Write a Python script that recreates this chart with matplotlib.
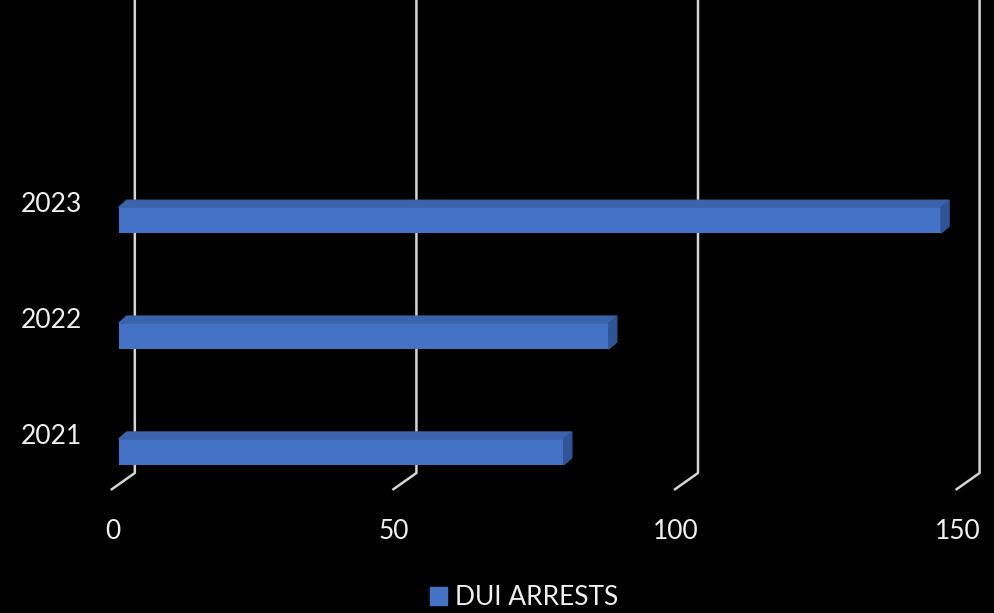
import matplotlib
matplotlib.use("Agg")
import matplotlib.pyplot as plt
from matplotlib.patches import Polygon, Rectangle

# data
years = ['2021', '2022', '2023']
arrests = [79, 87, 146]
x_ticks = [0, 50, 100, 150]
series_name = 'DUI ARRESTS'

# colours
front_col = '#4472C4'
top_col = '#3B64AD'
side_col = '#2F5597'
grid_col = '#d4d4d4'
text_col = '#f0f0f0'

plt.rcParams['font.family'] = ['Lato', 'DejaVu Sans']

fig = plt.figure(figsize=(9.94, 6.13), dpi=100, facecolor='black')
ax = fig.add_axes([0, 0, 1, 1])
ax.set_facecolor('black')
ax.set_xlim(-21.1, 155.4)
ax.set_ylim(-1.39, 3.90)
ax.axis('off')

# fake 3d offsets (data units)
back_dx = 2.84
front_dx = -1.42
wall_bottom = -0.182
floor_front = -0.328
bar_h = 0.224
depth_dx = 1.42
depth_dy = 0.06

# grid lines: back wall + floor diagonal
for v in x_ticks:
    ax.plot([v + back_dx, v + back_dx, v + front_dx],
            [3.95, wall_bottom, floor_front],
            color=grid_col, lw=1.8, zorder=1, solid_capstyle='butt')

ypos = list(range(len(years)))
ax.barh(ypos, arrests, height=bar_h, left=0, color=front_col, zorder=3)

for y, v in zip(ypos, arrests):
    top = y + bar_h / 2
    bot = y - bar_h / 2
    ax.add_patch(Polygon([(0, top), (v, top), (v + depth_dx, top + depth_dy),
                          (depth_dx, top + depth_dy)],
                         closed=True, color=top_col, zorder=3))
    ax.add_patch(Polygon([(v, bot), (v, top), (v + depth_dx, top + depth_dy),
                          (v + depth_dx, bot + depth_dy)],
                         closed=True, color=side_col, zorder=3))

# category labels
for y, lab in zip(ypos, years):
    ax.text(-6.6, y + 0.072, lab, ha='right', va='baseline',
            color=text_col, fontsize=19)

# value axis labels
for v in x_ticks:
    ax.text(v + front_dx + 0.3, -0.751, str(v), ha='center', va='baseline',
            color=text_col, fontsize=19)

handle = Rectangle((0, 0), 1, 1, color=front_col)
fig.legend([handle], [series_name], loc='center', bbox_to_anchor=(0.527, 0.025),
           frameon=False, fontsize=19, labelcolor=text_col,
           handlelength=0.65, handleheight=0.65, handletextpad=0.3,
           borderpad=0, borderaxespad=0)

fig.savefig('out.png', dpi=100, facecolor='black')
